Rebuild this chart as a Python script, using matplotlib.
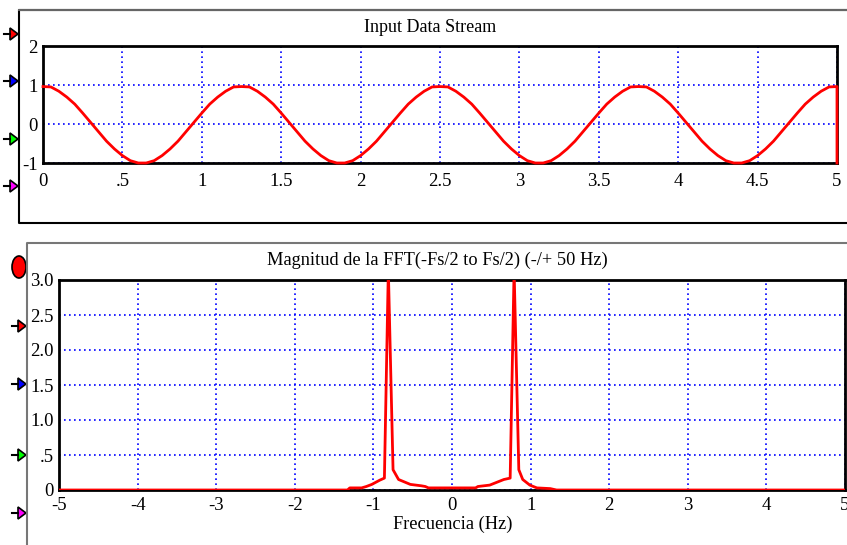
import numpy as np
import matplotlib
matplotlib.use("Agg")
import matplotlib.pyplot as plt
from matplotlib.patches import Polygon, Ellipse

plt.rcParams['font.family'] = ['Liberation Serif', 'DejaVu Serif']
plt.rcParams['axes.unicode_minus'] = False

# input data stream, samples every 0.05 s from 0 to 5 s (last pair closes the trace at t=5)
t_in = [0.00, 0.05, 0.10, 0.15, 0.20, 0.25, 0.30, 0.35, 0.40, 0.45,
        0.50, 0.55, 0.60, 0.65, 0.70, 0.75, 0.80, 0.85, 0.90, 0.95,
        1.00, 1.05, 1.10, 1.15, 1.20, 1.25, 1.30, 1.35, 1.40, 1.45,
        1.50, 1.55, 1.60, 1.65, 1.70, 1.75, 1.80, 1.85, 1.90, 1.95,
        2.00, 2.05, 2.10, 2.15, 2.20, 2.25, 2.30, 2.35, 2.40, 2.45,
        2.50, 2.55, 2.60, 2.65, 2.70, 2.75, 2.80, 2.85, 2.90, 2.95,
        3.00, 3.05, 3.10, 3.15, 3.20, 3.25, 3.30, 3.35, 3.40, 3.45,
        3.50, 3.55, 3.60, 3.65, 3.70, 3.75, 3.80, 3.85, 3.90, 3.95,
        4.00, 4.05, 4.10, 4.15, 4.20, 4.25, 4.30, 4.35, 4.40, 4.45,
        4.50, 4.55, 4.60, 4.65, 4.70, 4.75, 4.80, 4.85, 4.90, 4.95,
        5.00, 5.00]
y_in = [0.96, 0.95, 0.84, 0.69, 0.51, 0.28, 0.04, -0.20, -0.44, -0.64,
        -0.81, -0.94, -1.00, -1.00, -0.94, -0.81, -0.64, -0.44, -0.20, 0.04,
        0.28, 0.51, 0.69, 0.84, 0.95, 0.96, 0.95, 0.84, 0.69, 0.51,
        0.28, 0.04, -0.20, -0.44, -0.64, -0.81, -0.94, -1.00, -1.00, -0.94,
        -0.81, -0.64, -0.44, -0.20, 0.04, 0.28, 0.51, 0.69, 0.84, 0.95,
        0.96, 0.95, 0.84, 0.69, 0.51, 0.28, 0.04, -0.20, -0.44, -0.64,
        -0.81, -0.94, -1.00, -1.00, -0.94, -0.81, -0.64, -0.44, -0.20, 0.04,
        0.28, 0.51, 0.69, 0.84, 0.95, 0.96, 0.95, 0.84, 0.69, 0.51,
        0.28, 0.04, -0.20, -0.44, -0.64, -0.81, -0.94, -1.00, -1.00, -0.94,
        -0.81, -0.64, -0.44, -0.20, 0.04, 0.28, 0.51, 0.69, 0.84, 0.95,
        0.96, -1.00]

# FFT magnitude (peaks go just off scale)
f_fft = [-5.0, -1.33, -1.30, -1.15, -1.09, -1.02, -0.92, -0.86, -0.81, -0.75,
         -0.68, -0.53, -0.39, -0.34, -0.30, 0.30, 0.33, 0.48, 0.66, 0.74,
         0.79, 0.85, 0.90, 0.99, 1.08, 1.25, 1.33, 5.0]
m_fft = [0.0, 0.0, 0.03, 0.03, 0.05, 0.08, 0.14, 0.17, 3.15, 0.29,
         0.15, 0.08, 0.06, 0.05, 0.03, 0.03, 0.05, 0.07, 0.15, 0.17,
         3.15, 0.29, 0.15, 0.07, 0.03, 0.02, 0.0, 0.0]

top_xticks = [0, 0.5, 1, 1.5, 2, 2.5, 3, 3.5, 4, 4.5, 5]
top_xlabels = ["0", ".5", "1", "1.5", "2", "2.5", "3", "3.5", "4", "4.5", "5"]
top_yticks = [-1, 0, 1, 2]
bot_xticks = [-5, -4, -3, -2, -1, 0, 1, 2, 3, 4, 5]
bot_yticks = [0, 0.5, 1.0, 1.5, 2.0, 2.5, 3.0]
bot_ylabels = ["0", ".5", "1.0", "1.5", "2.0", "2.5", "3.0"]

W, H = 847, 545
fig = plt.figure(figsize=(W / 100, H / 100), dpi=100)

def px_axes(l, t, r, b):
    return fig.add_axes([l / W, 1 - b / H, (r - l) / W, (b - t) / H])

# decoration layer in pixel coords
deco = fig.add_axes([0, 0, 1, 1], zorder=-1)
deco.set_xlim(0, W)
deco.set_ylim(H, 0)
deco.axis("off")
deco.plot([847, 18.5, 18.5, 847], [9.5, 9.5, 222.5, 222.5], color="#000000", lw=1.5)
deco.plot([18.5, 847], [9.5, 9.5], color="#666666", lw=1.5)
deco.plot([26.5, 26.5, 847], [545, 242.5, 242.5], color="#777777", lw=1.5)

def arrow(x0, x1, x2, y, col):
    deco.plot([x0, x1], [y, y], color="black", lw=1.5)
    deco.add_patch(Polygon([[x1, y - 6], [x1, y + 6], [x2, y]], closed=True,
                           facecolor=col, edgecolor="black", lw=1.2))

for y, c in zip([34, 81, 139, 186], ["#ff0000", "#0000ff", "#00ff00", "#ff00ff"]):
    arrow(4, 10, 18, y, c)
for y, c in zip([326, 384, 455, 513], ["#ff0000", "#0000ff", "#00ff00", "#ff00ff"]):
    arrow(12, 18, 26, y, c)
deco.add_patch(Ellipse((19, 267), 14, 22, facecolor="#ff0000", edgecolor="black", lw=1.2))

def style(ax):
    for s in ax.spines.values():
        s.set_linewidth(2)
        s.set_color("black")
    ax.grid(True, color="#0000ff", linestyle=(0, (1, 2)), linewidth=1.2)
    ax.tick_params(length=0, labelsize=13.5)

# top panel
ax1 = px_axes(43, 46, 837, 163)
ax1.plot(t_in, y_in, color="#ff0000", lw=2, zorder=3, clip_on=False)
ax1.set_xlim(0, 5)
ax1.set_ylim(-1, 2)
ax1.set_xticks(top_xticks)
ax1.set_xticklabels(top_xlabels)
ax1.set_yticks(top_yticks)
style(ax1)
ax1.tick_params(axis="x", pad=7)
ax1.tick_params(axis="y", pad=4)
fig.text(430 / W, 1 - 27 / H, "Input Data Stream", ha="center", va="center", fontsize=13)

# bottom panel
ax2 = px_axes(59, 280, 845, 490)
ax2.plot(f_fft, m_fft, color="#ff0000", lw=2, zorder=3)
ax2.set_xlim(-5, 5)
ax2.set_ylim(0, 3)
ax2.set_xticks(bot_xticks)
ax2.set_yticks(bot_yticks)
ax2.set_yticklabels(bot_ylabels)
style(ax2)
ax2.tick_params(axis="x", pad=5)
ax2.tick_params(axis="y", pad=4)
fig.text(437 / W, 1 - 260 / H, "Magnitud de la FFT(-Fs/2 to Fs/2) (-/+ 50 Hz)",
         ha="center", va="center", fontsize=13.2)
fig.text(453 / W, 1 - 524 / H, "Frecuencia (Hz)", ha="center", va="center", fontsize=13.2)

fig.savefig("out.png", dpi=100)
